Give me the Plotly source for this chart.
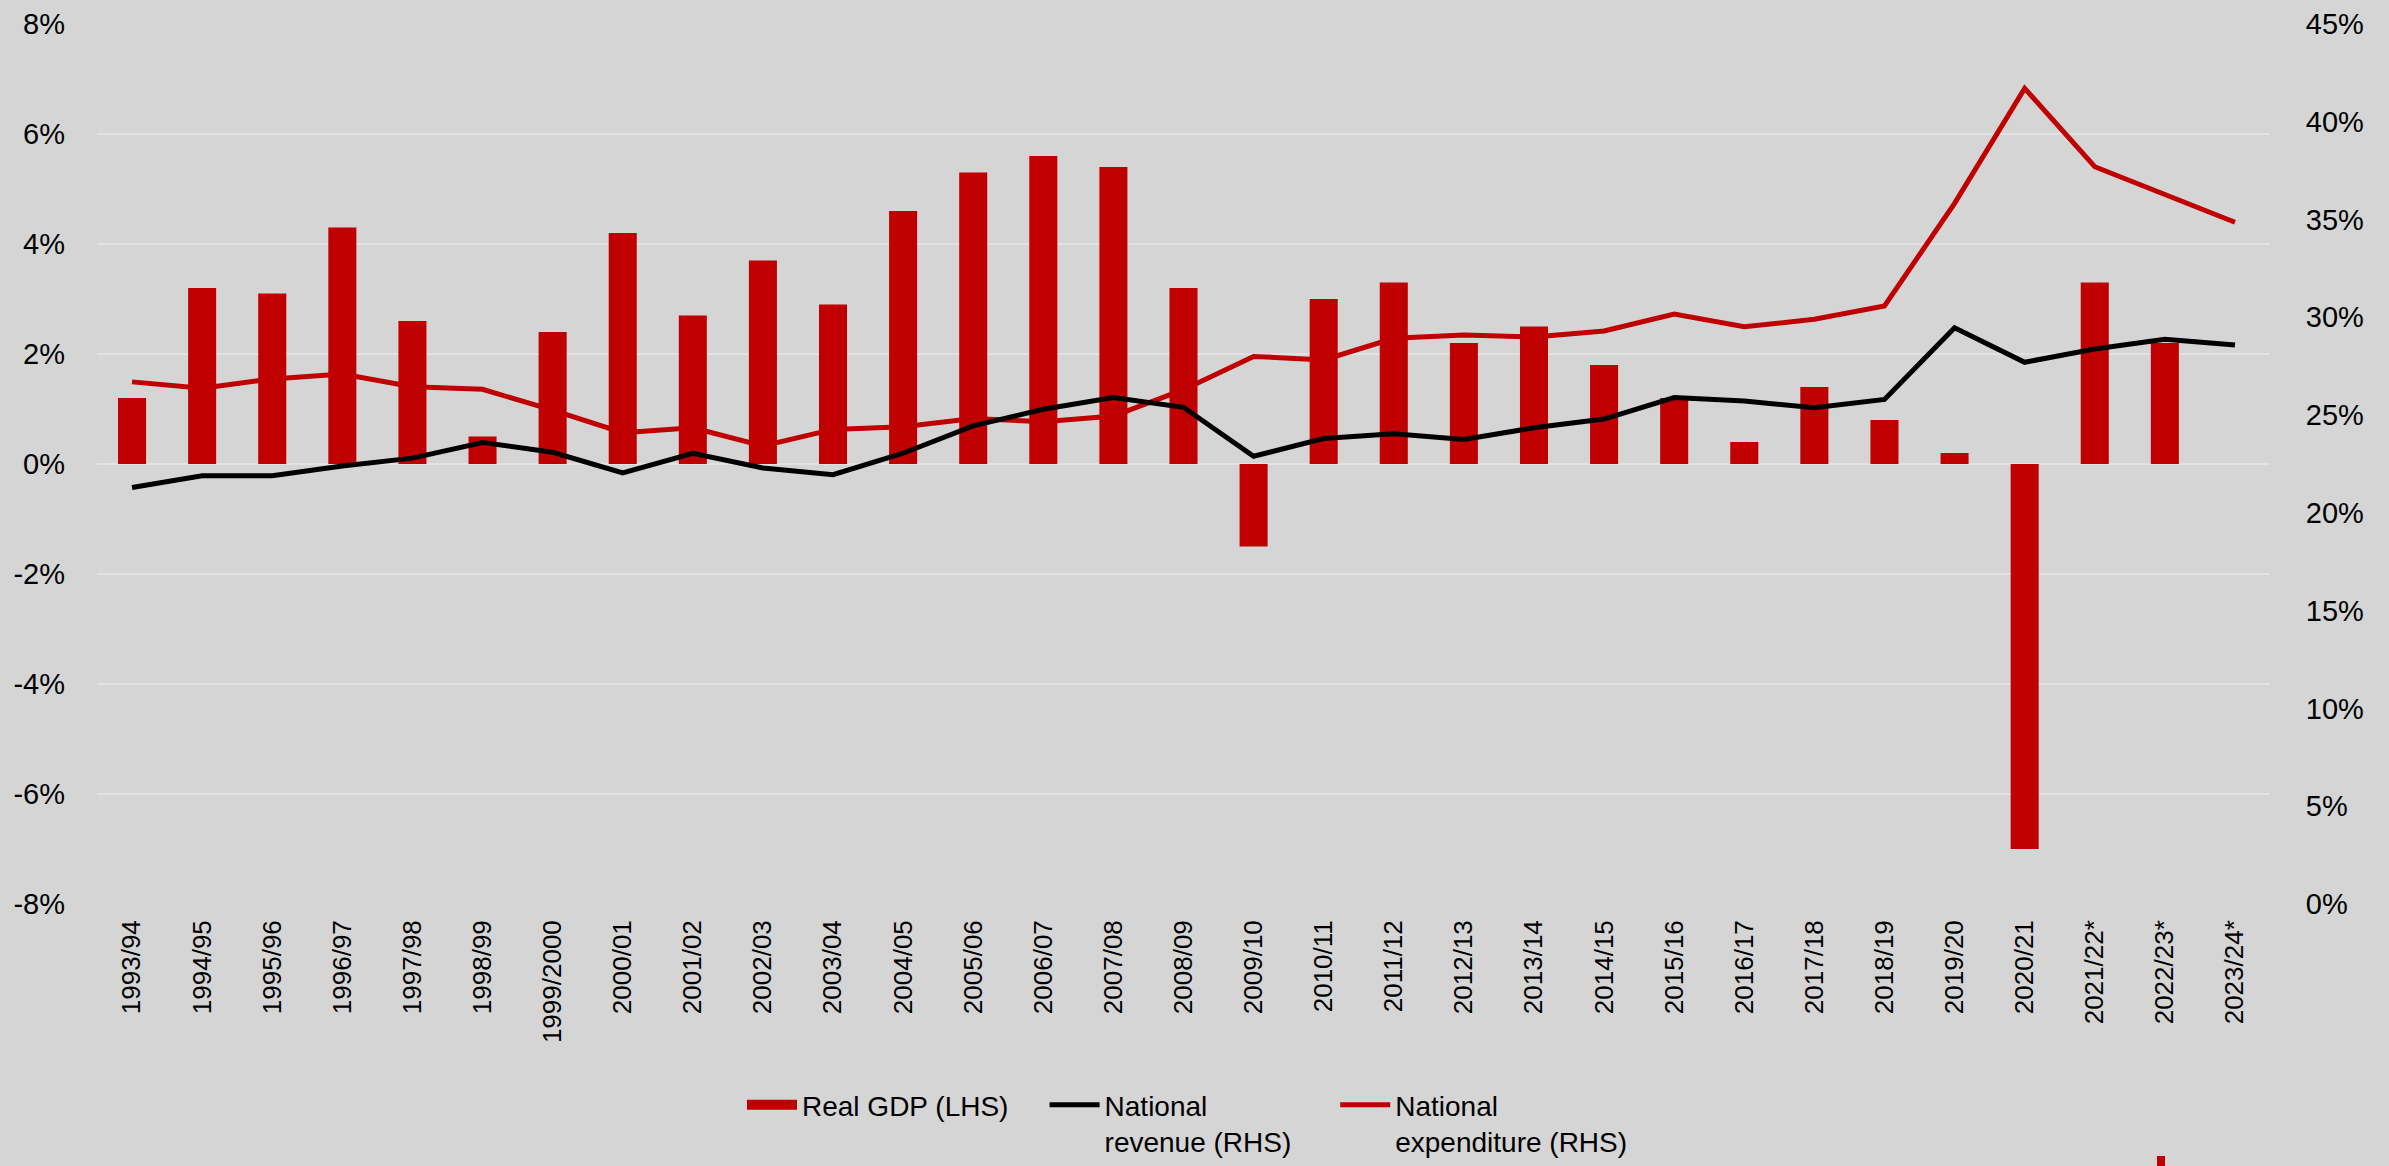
import plotly.graph_objects as go

years = ["1993/94", "1994/95", "1995/96", "1996/97", "1997/98", "1998/99", "1999/2000",
         "2000/01", "2001/02", "2002/03", "2003/04", "2004/05", "2005/06", "2006/07",
         "2007/08", "2008/09", "2009/10", "2010/11", "2011/12", "2012/13", "2013/14",
         "2014/15", "2015/16", "2016/17", "2017/18", "2018/19", "2019/20", "2020/21",
         "2021/22*", "2022/23*", "2023/24*"]

real_gdp = [1.2, 3.2, 3.1, 4.3, 2.6, 0.5, 2.4, 4.2, 2.7, 3.7, 2.9, 4.6, 5.3, 5.6, 5.4,
            3.2, -1.5, 3.0, 3.3, 2.2, 2.5, 1.8, 1.2, 0.4, 1.4, 0.8, 0.2, -7.0, 3.3, 2.2, None]

revenue = [21.3, 21.9, 21.9, 22.4, 22.8, 23.6, 23.1, 22.05, 23.05, 22.3, 21.95, 23.05,
           24.45, 25.3, 25.9, 25.4, 22.9, 23.8, 24.05, 23.75, 24.35, 24.8, 25.9, 25.72,
           25.38, 25.8, 29.47, 27.7, 28.38, 28.88, 28.58]

expenditure = [26.7, 26.38, 26.85, 27.1, 26.45, 26.32, 25.25, 24.1, 24.35, 23.42, 24.27,
               24.4, 24.83, 24.66, 24.95, 26.3, 28.0, 27.82, 28.93, 29.1, 29.0, 29.3,
               30.17, 29.52, 29.9, 30.58, 35.83, 41.71, 37.7, 36.26, 34.86]

left_ticks = [-8, -6, -4, -2, 0, 2, 4, 6, 8]
right_ticks = [0, 5, 10, 15, 20, 25, 30, 35, 40, 45]
left_text = [f"{v}%" for v in left_ticks]
right_text = [f"{v}%" for v in right_ticks]

RED = "#c00000"
BG = "#d5d5d5"
LABEL_FONT = "Liberation Sans, Arial, sans-serif"
PAD = "\u00a0"

fig = go.Figure()
fig.add_trace(go.Bar(x=years, y=real_gdp, name="Real GDP (LHS)", marker_color=RED,
                     marker_line_width=0, width=0.4, yaxis="y", showlegend=False))
# legend entry for the bars drawn as a thick swatch
fig.add_trace(go.Scatter(x=[None], y=[None], name="Real GDP (LHS)" + PAD * 4,
                         mode="lines", line=dict(color=RED, width=20), yaxis="y",
                         legendrank=1, hoverinfo="skip"))
fig.add_trace(go.Scatter(x=years, y=expenditure, name="National<br>expenditure (RHS)",
                         mode="lines", line=dict(color=RED, width=5), yaxis="y2",
                         legendrank=3))
fig.add_trace(go.Scatter(x=years, y=revenue, name="National<br>revenue (RHS)" + PAD * 5,
                         mode="lines", line=dict(color="black", width=5), yaxis="y2",
                         legendrank=2))

fig.update_layout(
    width=2389, height=1166,
    paper_bgcolor=BG, plot_bgcolor=BG,
    margin=dict(l=97, r=119, t=24, b=262, autoexpand=False),
    showlegend=True,
    legend=dict(orientation="h", xref="container", x=742 / 2389, xanchor="left",
                yref="container", y=(1166 - 1080) / 1166, yanchor="top",
                font=dict(family=LABEL_FONT, size=28, color="black"),
                bgcolor="rgba(0,0,0,0)", itemwidth=50, traceorder="normal",
                valign="top"),
    xaxis=dict(type="category", tickangle=-90, showgrid=False, zeroline=False,
               showline=False, ticks="", automargin=False, ticklabelstandoff=10,
               tickfont=dict(family=LABEL_FONT, size=26, color="black")),
    yaxis=dict(range=[-8, 8], tickmode="array", tickvals=left_ticks, ticktext=left_text,
               showgrid=True, gridcolor="#e2e2e2", gridwidth=2, zeroline=False,
               showline=False, ticks="", ticklabelstandoff=31, automargin=False,
               tickfont=dict(family=LABEL_FONT, size=29, color="black")),
    yaxis2=dict(range=[0, 45], tickmode="array", tickvals=right_ticks, ticktext=right_text,
                overlaying="y", side="right", showgrid=False, zeroline=False,
                showline=False, ticks="outside", ticklen=29, tickcolor="rgba(0,0,0,0)",
                automargin=False,
                tickfont=dict(family=LABEL_FONT, size=29, color="black")),
    shapes=[dict(type="rect", xref="paper", yref="paper",
                 x0=(2157 - 97) / 2173, x1=(2165 - 97) / 2173,
                 y0=-(1156 - 904) / 880, y1=-(1170 - 904) / 880,
                 fillcolor=RED, line_width=0)],
)

fig.write_html("out.html",
               config={"displayModeBar": False},
               post_script="document.body.style.margin='0';"
                           "document.body.style.background='#d5d5d5';"
                           "document.body.style.overflow='hidden';")
